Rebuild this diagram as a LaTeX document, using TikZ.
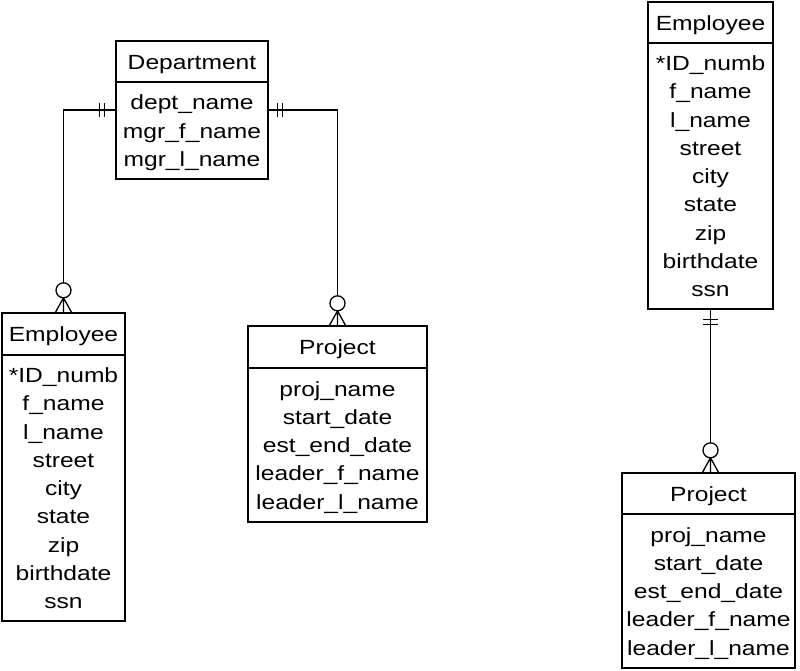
\documentclass[tikz,border=0pt]{standalone}
\usepackage{fontspec}
\setmainfont{Liberation Sans}[FakeStretch=1.2]
\newcommand\entxt[1]{\raisebox{-2pt}[\height][\depth]{\begin{tabular}{@{}c@{}}#1\end{tabular}}}
\begin{document}
\begin{tikzpicture}[x=1pt,y=-1pt]
\tikzset{
  ent/.style={draw, line width=1.4pt, inner sep=0pt, font=\fontsize{20.5}{28.25}\selectfont},
  rel/.style={line width=1.3pt},
  zmany/.pic={
    \draw[rel] (0pt,14.5pt) -- (-8pt,0pt) (0pt,14.5pt) -- (0pt,0pt) (0pt,14.5pt) -- (8pt,0pt);
    \draw[rel,fill=white] (0pt,22pt) circle[radius=7.5pt];
  }
}
\useasboundingbox (0,0) rectangle (800,670);
\fill[white] (0,0) rectangle (800,670);

% Department
\node[ent, minimum width=152pt, minimum height=41pt] (deptT) at (192,61.5) {\entxt{Department}};
\node[ent, minimum width=152pt, minimum height=97pt] (deptA) at (192,130.5) {\entxt{dept\_name\\mgr\_f\_name\\mgr\_l\_name}};

% Employee (left)
\node[ent, minimum width=123pt, minimum height=42pt] (empLT) at (63.5,334) {\entxt{Employee}};
\node[ent, minimum width=123pt, minimum height=266pt] (empLA) at (63.5,488) {\entxt{*ID\_numb\\f\_name\\l\_name\\street\\city\\state\\zip\\birthdate\\ssn}};

% Project (middle)
\node[ent, minimum width=179pt, minimum height=42pt] (projMT) at (337.5,347) {\entxt{Project}};
\node[ent, minimum width=179pt, minimum height=154pt] (projMA) at (337.5,445) {\entxt{proj\_name\\start\_date\\est\_end\_date\\leader\_f\_name\\leader\_l\_name}};

% Employee (right)
\node[ent, minimum width=125pt, minimum height=41pt] (empRT) at (710.5,22.5) {\entxt{Employee}};
\node[ent, minimum width=125pt, minimum height=266pt] (empRA) at (710.5,176) {\entxt{*ID\_numb\\f\_name\\l\_name\\street\\city\\state\\zip\\birthdate\\ssn}};

% Project (right)
\node[ent, minimum width=173pt, minimum height=41pt] (projRT) at (708.5,493.5) {\entxt{Project}};
\node[ent, minimum width=173pt, minimum height=154pt] (projRA) at (708.5,591) {\entxt{proj\_name\\start\_date\\est\_end\_date\\leader\_f\_name\\leader\_l\_name}};

% Department -- Employee
\draw[rel] ([yshift=20.5pt]deptA.west) -| ([yshift=29.5pt]empLT.north);
\draw[rel] ([xshift=-16pt,yshift=27.5pt]deptA.west) -- ([xshift=-16pt,yshift=13.5pt]deptA.west)
           ([xshift=-11pt,yshift=27.5pt]deptA.west) -- ([xshift=-11pt,yshift=13.5pt]deptA.west);
\pic at (empLT.north) {zmany};

% Department -- Project
\draw[rel] ([yshift=20.5pt]deptA.east) -| ([yshift=29.5pt]projMT.north);
\draw[rel] ([xshift=9pt,yshift=27.5pt]deptA.east) -- ([xshift=9pt,yshift=13.5pt]deptA.east)
           ([xshift=14pt,yshift=27.5pt]deptA.east) -- ([xshift=14pt,yshift=13.5pt]deptA.east);
\pic at (projMT.north) {zmany};

% Employee -- Project (right)
\coordinate (pr) at (empRA.south |- projRT.north);
\draw[rel] (empRA.south) -- ([yshift=29.5pt]pr);
\draw[rel] ([xshift=-7.5pt,yshift=-10pt]empRA.south) -- ([xshift=7.5pt,yshift=-10pt]empRA.south)
           ([xshift=-7.5pt,yshift=-15pt]empRA.south) -- ([xshift=7.5pt,yshift=-15pt]empRA.south);
\pic at (pr) {zmany};
\end{tikzpicture}
\end{document}
